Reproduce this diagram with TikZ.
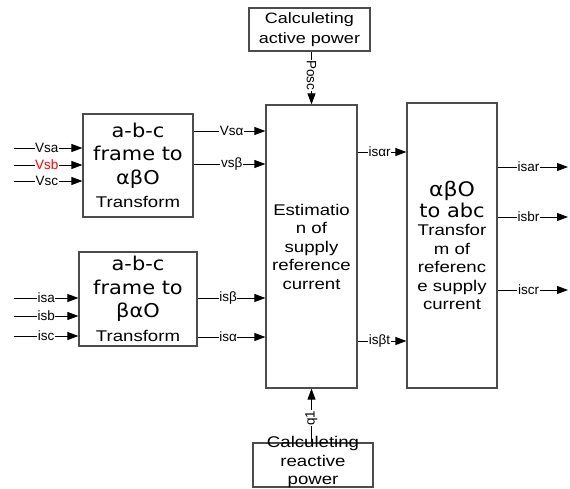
\documentclass[tikz,border=0pt]{standalone}
\usepackage{fontspec}
\setmainfont{Liberation Sans}
\newfontfamily\geo[FakeStretch=1.1]{DejaVu Sans}
\newfontfamily\wide[FakeStretch=1.2]{Liberation Sans}
\usetikzlibrary{arrows.meta}
\begin{document}
\begin{tikzpicture}[x=1pt,y=-1pt,
  box/.style={draw=black!70, line width=1.2pt, inner sep=0pt, align=center},
  arr/.style={-{Triangle[length=11pt,width=8pt]}, line width=0.8pt},
  lbl/.style={fill=white, inner sep=0.6pt, font=\fontsize{13.5}{14}\selectfont},
  big/.style={font=\geo\fontsize{19}{23.5}\selectfont},
  mid/.style={font=\wide\fontsize{15.5}{18.5}\selectfont}]
\useasboundingbox (0,0) rectangle (570,488);

% boxes
\node[box, big, minimum width=110pt, minimum height=103pt] (b1) at (138,165.5)
  {a-b-c\\frame to\\αβO\\{\wide\fontsize{15.5}{18}\selectfont Transform}};
\node[box, big, minimum width=118pt, minimum height=94pt] (b2) at (138,299)
  {a-b-c\\frame to\\βαO\\{\wide\fontsize{15.5}{18}\selectfont Transform}};
\node[box, mid, minimum width=91pt, minimum height=283pt] (est) at (311.5,246.5)
  {Estimatio\\n of\\supply\\reference\\current};
\node[box, mid, minimum width=90pt, minimum height=285pt] (inv) at (452,245.5)
  {{\geo\fontsize{20}{25}\selectfont αβO}\\[1pt]{\geo\fontsize{19}{21}\selectfont to abc}\\Transfor\\m of\\referenc\\e supply\\current};
\node[box, font=\wide\fontsize{15}{20}\selectfont, minimum width=121pt, minimum height=43pt] (act) at (309.5,29.5)
  {Calculeting\\active power};
\node[box, minimum width=120pt, minimum height=44pt] (react) at (313,465) {};
\node[mid, align=center, inner sep=0pt] (reacttxt) at (313,462) {Calculeting\\reactive\\power};

% inputs to box 1
\coordinate (vsa) at (14,148);
\coordinate (vsb) at (14,165);
\coordinate (vsc) at (14,181);
\draw[arr] (vsa) -- (vsa -| b1.west) node[lbl,pos=0.48]{Vsa};
\draw[arr] (vsb) -- (vsb -| b1.west) node[lbl,pos=0.48,text=red]{Vsb};
\draw[arr] (vsc) -- (vsc -| b1.west) node[lbl,pos=0.48]{Vsc};

% inputs to box 2
\coordinate (isa) at (14,298);
\coordinate (isb) at (14,316);
\coordinate (isc) at (14,336);
\draw[arr] (isa) -- (isa -| b2.west) node[lbl,pos=0.5]{isa};
\draw[arr] (isb) -- (isb -| b2.west) node[lbl,pos=0.5]{isb};
\draw[arr] (isc) -- (isc -| b2.west) node[lbl,pos=0.5]{isc};

% box 1 -> estimation
\draw[arr] (b1.east |- 0,131) -- (est.west |- 0,131) node[lbl,pos=0.53]{Vsα};
\draw[arr] (b1.east |- 0,164) -- (est.west |- 0,164) node[lbl,pos=0.53]{vsβ};

% box 2 -> estimation
\draw[arr] (b2.east |- 0,298) -- (est.west |- 0,298) node[lbl,pos=0.45]{isβ};
\draw[arr] (b2.east |- 0,337) -- (est.west |- 0,337) node[lbl,pos=0.45]{isα};

% estimation -> inverse transform
\draw[arr] (est.east |- 0,152) -- (inv.west |- 0,152) node[lbl,pos=0.45]{isαr};
\draw[arr] (est.east |- 0,341) -- (inv.west |- 0,341) node[lbl,pos=0.45]{isβt};

% outputs
\coordinate (oa) at (568,167);
\coordinate (ob) at (568,217);
\coordinate (oc) at (568,290);
\draw[arr] (oa -| inv.east) -- (oa) node[lbl,pos=0.44]{isar};
\draw[arr] (ob -| inv.east) -- (ob) node[lbl,pos=0.44]{isbr};
\draw[arr] (oc -| inv.east) -- (oc) node[lbl,pos=0.44]{iscr};

% powers
\draw[arr] (est.north |- act.south) -- (est.north) node[lbl,pos=0.45,rotate=-90]{Posc};
\draw[arr] (est.south |- react.north) -- (est.south) node[lbl,pos=0.45,rotate=90]{q1};
\end{tikzpicture}
\end{document}
